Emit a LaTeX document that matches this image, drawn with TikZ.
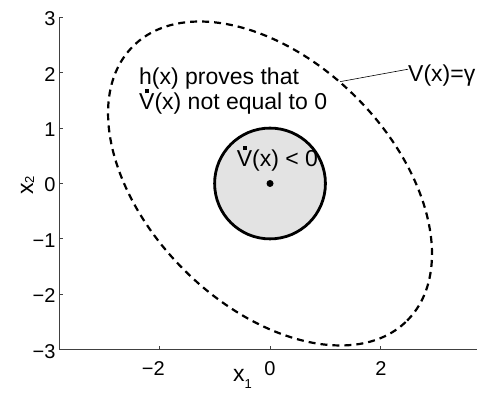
\documentclass[tikz,border=0pt]{standalone}
\usepackage{fontspec}
\setmainfont{Liberation Sans}
\newcommand{\mydotV}{\setbox0\hbox{V}\makebox[0pt][l]{\makebox[\wd0]{\raisebox{\dimexpr\ht0+0.8pt\relax}{\rule{4pt}{4pt}}}}V}
\begin{document}
\begin{tikzpicture}[x=55.4pt, y=55.4pt,
  axisline/.style={black!75, line width=0.8pt},
  ticklab/.style={font=\fontsize{20}{20}\selectfont, inner sep=0},
  annot/.style={font=\fontsize{23}{25}\selectfont, inner sep=0},
  levelset/.style={line width=2.2pt, dash pattern=on 7pt off 5pt},
  region/.style={line width=2.8pt, fill=black!11}]
\useasboundingbox (-4.874,-3.764) rectangle (3.736,3.312);
% regions
\draw[region] (0,0) circle (1);
\draw[levelset, rotate=-45] (0,0) ellipse (3.5 and 2.2);
\node[circle, fill=black, inner sep=0, minimum size=7pt] (origin) at (0,0) {};
% axes
\draw[axisline] (-3.8,3) -- (-3.8,-3) -- (3.8,-3);
\foreach \y in {-3,...,3} {
  \draw[axisline] (-3.8,\y) -- ++(4pt,0);
}
\foreach \x in {-2,0,2} {
  \draw[axisline] (\x,-3) -- ++(0,4pt);
}
\node[ticklab, anchor=east] (y3) at ([yshift=-1.5pt]-3.87,3) {3};
\node[ticklab, anchor=east] (y2) at ([yshift=-1.5pt]-3.87,2) {2};
\node[ticklab, anchor=east] (y1) at ([yshift=-1.5pt]-3.87,1) {1};
\node[ticklab, anchor=east] (y0) at ([yshift=-1.5pt]-3.87,0) {0};
\node[ticklab, anchor=east] (ym1) at ([yshift=-1.5pt]-3.87,-1) {−1};
\node[ticklab, anchor=east] (ym2) at ([yshift=-1.5pt]-3.87,-2) {−2};
\node[ticklab, anchor=east] (ym3) at ([yshift=-1.5pt]-3.87,-3) {−3};
\node[ticklab] (xm2) at (-2,-3.339) {\llap{−}2};
\node[ticklab] (x0) at (0,-3.339) {0};
\node[ticklab] (x2) at (2,-3.339) {2};
% axis labels
\node[annot, anchor=base west] (xone) at (-0.668,-3.583) {x\raisebox{-6.5pt}{\fontsize{13}{13}\selectfont 1}};
\node[annot, anchor=base west, rotate=90] (xtwo) at (-4.278,-0.208) {x\raisebox{-1pt}{\fontsize{13}{13}\selectfont 2}};
% annotations
\node[annot, anchor=base west] (hx) at (-2.365,1.778) {h(x) proves that};
\node[annot, anchor=base west] (nz) at (-2.365,1.327) {\mydotV(x) not equal to 0};
\node[annot, anchor=base west] (neg) at (-0.602,0.303) {\mydotV(x) < 0};
\node[annot, anchor=base west] (vlab) at (2.491,1.838) {V(x)=γ};
\coordinate (ep) at (1.264,1.838);
\draw[line width=0.6pt] (ep) -- ([yshift=6.5pt]vlab.west);
\end{tikzpicture}
\end{document}
